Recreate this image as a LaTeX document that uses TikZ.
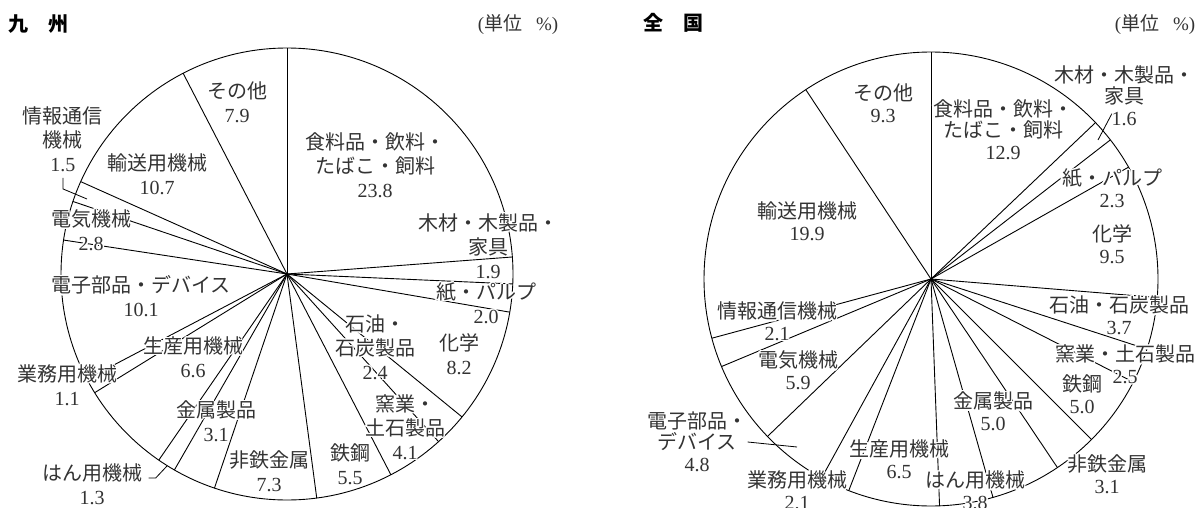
\documentclass[tikz,border=0pt]{standalone}
\usepackage{fontspec}
\setmainfont{Liberation Serif}
\newfontfamily\jpfont{Noto Sans CJK JP}
\usepackage[copies]{contour}
\contourlength{1.4pt}
\usetikzlibrary{backgrounds}
\newcommand{\jtx}[1]{\contour{white}{#1}}
\newcommand{\pv}[1]{\contour{white}{\rmfamily #1}}
\tikzset{
  pielabel/.style={font=\jpfont\fontsize{20}{#1}\selectfont, text=black!80, align=center, inner sep=0.5pt},
  piehead/.style={font=\jpfont\bfseries\fontsize{20}{24}\selectfont, anchor=west, inner sep=0pt},
  pieunit/.style={font=\fontsize{19}{22}\selectfont, text=black!80, inner sep=0pt},
  pieline/.style={line width=0.9pt},
  leader/.style={line width=0.8pt}
}

\begin{document}
\begin{tikzpicture}[x=1pt,y=-1pt]
      \useasboundingbox (0,0) rectangle (1202,508);
      \coordinate (kc) at (287,274);
      \coordinate (nc) at (931,279);

      \node[piehead] (khead) at (8,24)   {九　州};
      \node[piehead] (nhead) at (643,23) {全　国};
      \node[pieunit] (kunit) at (518,25)  {(\jpfont 単位\hspace{14pt}\rmfamily\%)};
      \node[pieunit] (nunit) at (1155,25) {(\jpfont 単位\hspace{14pt}\rmfamily\%)};

      % Kyushu
      \begin{scope}[every node/.style={pielabel=24}]
          \node (kfood)  at (375,166) {\jtx{食料品・飲料・}\\\jtx{たばこ・飼料}\\\pv{23.8}};
          \node (kwood)  at (488,247) {\jtx{木材・木製品・}\\\jtx{家具}\\\pv{1.9}};
          \node (kpaper) at (486,304) {\jtx{紙・パルプ}\\\pv{2.0}};
          \node (kchem)  at (459,355) {\jtx{化学}\\\pv{8.2}};
          \node (koil)   at (375,348) {\jtx{石油・}\\\jtx{石炭製品}\\\pv{2.4}};
          \node (kcer)   at (405,428) {\jtx{窯業・}\\\jtx{土石製品}\\\pv{4.1}};
          \node (ksteel) at (350,465) {\jtx{鉄鋼}\\\pv{5.5}};
          \node (knonfe) at (269,472) {\jtx{非鉄金属}\\\pv{7.3}};
          \node (kmetal) at (216,422) {\jtx{金属製品}\\\pv{3.1}};
          \node (kgen)   at (92,485)  {\jtx{はん用機械}\\\pv{1.3}};
          \node (kprod)  at (193,358) {\jtx{生産用機械}\\\pv{6.6}};
          \node (kbiz)   at (67,386)  {\jtx{業務用機械}\\\pv{1.1}};
          \node (kelec)  at (141,297) {\jtx{電子部品・デバイス}\\\pv{10.1}};
          \node (kelm)   at (91,231)  {\jtx{電気機械}\\\pv{2.8}};
          \node (kinfo)  at (63,140)  {\jtx{情報通信}\\\jtx{機械}\\\pv{1.5}};
          \node (ktrans) at (157,175) {\jtx{輸送用機械}\\\pv{10.7}};
          \node (kother) at (237,103) {\jtx{その他}\\\pv{7.9}};
      \end{scope}

      % whole country
      \begin{scope}[every node/.style={pielabel=21.5}]
          \node (nfood)  at (1003,130) {\jtx{食料品・飲料・}\\\jtx{たばこ・飼料}\\\pv{12.9}};
          \node (nwood)  at (1124,96)  {\jtx{木材・木製品・}\\\jtx{家具}\\\pv{1.6}};
          \node (npaper) at (1112,189) {\jtx{紙・パルプ}\\\pv{2.3}};
          \node (nchem)  at (1112,245) {\jtx{化学}\\\pv{9.5}};
          \node (noil)   at (1119,316) {\jtx{石油・石炭製品}\\\pv{3.7}};
          \node (ncer)   at (1125,365) {\jtx{窯業・土石製品}\\\pv{2.5}};
          \node (nsteel) at (1082,395) {\jtx{鉄鋼}\\\pv{5.0}};
          \node (nnonfe) at (1107,475) {\jtx{非鉄金属}\\\pv{3.1}};
          \node (nmetal) at (993,412)  {\jtx{金属製品}\\\pv{5.0}};
          \node (ngen)   at (975,491)  {\jtx{はん用機械}\\\pv{3.8}};
          \node (nprod)  at (899,460)  {\jtx{生産用機械}\\\pv{6.5}};
          \node (nbiz)   at (797,491)  {\jtx{業務用機械}\\\pv{2.1}};
          \node (nelec)  at (697,442)  {\jtx{電子部品・}\\\jtx{デバイス}\\\pv{4.8}};
          \node (nelm)   at (798,371)  {\jtx{電気機械}\\\pv{5.9}};
          \node (ninfo)  at (777,322)  {\jtx{情報通信機械}\\\pv{2.1}};
          \node (ntrans) at (807,222)  {\jtx{輸送用機械}\\\pv{19.9}};
          \node (nother) at (883,104)  {\jtx{その他}\\\pv{9.3}};
      \end{scope}

      \coordinate (kinfoend) at (87,199);
      \coordinate (kgenend)  at (167,466);
      \coordinate (nwoodend) at (1098,140);
      \coordinate (nelecend) at (797,447);

      \begin{scope}[on background layer]
          \draw[pieline] (kc) circle (226);
          \foreach \p in {0,23.8,25.7,27.7,35.9,38.3,42.4,47.9,55.2,58.3,59.6,66.2,67.3,77.4,80.2,81.7,92.4}
              \draw[pieline] (kc) -- ++(3.6*\p-90:226);
          \draw[pieline] (nc) circle (227);
          \foreach \p in {0,12.9,14.5,16.8,26.3,30.0,32.5,37.5,40.6,45.6,49.4,55.9,58.0,62.8,68.7,70.8,90.7}
              \draw[pieline] (nc) -- ++(3.6*\p-90:227);

          \draw[leader] ([yshift=-4pt]kinfo.south) -- ++(0,11) -- (kinfoend);
          \draw[leader] ([xshift=6pt,yshift=7pt]kgen.east) -- ++(7,0) -- (kgenend);
          \draw[leader] ([xshift=-12pt,yshift=14pt]nwood.south) -- (nwoodend);
          \draw[leader] (nelec.east) -- (nelecend);
      \end{scope}
  \end{tikzpicture}
\end{document}
